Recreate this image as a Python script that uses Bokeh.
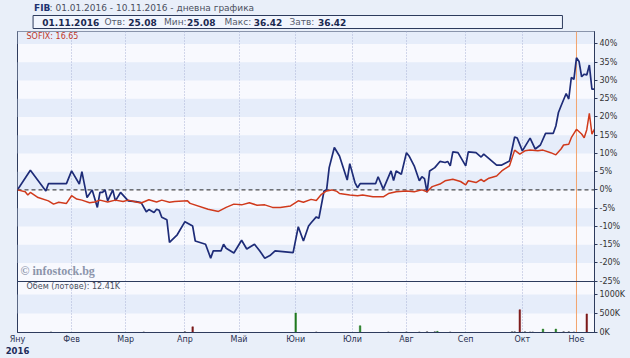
from bokeh.plotting import figure
from bokeh.models import (Range1d, LinearAxis, FixedTicker, Grid, Span, BoxAnnotation, Label,
                          GlobalInlineStyleSheet)
from bokeh.layouts import column
from bokeh.core.properties import value
from bokeh.embed import file_html
from bokeh.resources import INLINE

# ---------------- data ----------------
# x = trading-session index since 01.01.2016 (0 .. 224 = 10.11.2016)
month_idx = [0, 21, 42, 65, 86, 108, 130, 151, 174, 196, 217]
month_labels = ["Яну", "Фев", "Мар", "Апр", "Май", "Юни", "Юли", "Авг", "Сеп", "Окт", "Ное"]
year_label = "2016"
pct_ticks = [-25, -20, -15, -10, -5, 0, 5, 10, 15, 20, 25, 30, 35, 40]
vol_ticks = [0, 500, 1000]
vol_tick_labels = ["0K", "500K", "1000K"]
selected_idx = 217
x_last = 224

fib_idx = [0, 5, 11, 12, 19, 21, 24, 25, 27, 29, 31, 32, 33, 34, 35, 37, 38, 40, 43, 46, 48, 50,
           51, 53, 54, 55, 56, 58, 59, 61, 62, 65, 68, 69, 73, 75, 76, 79, 80, 81, 84, 87, 89, 92,
           94, 96, 98, 100, 107, 109, 111, 113, 114, 116, 117, 119, 120, 121, 123, 125, 128, 129,
           131, 132, 133, 139, 140, 142, 145, 146, 147, 149, 151, 152, 154, 156, 157, 158, 159,
           160, 162, 164, 166, 167, 168, 169, 171, 174, 175, 178, 180, 181, 186, 188, 191, 193,
           194, 196, 199, 201, 203, 205, 208, 209, 210, 211, 213, 214, 215, 216, 217, 218, 219,
           220, 221, 222, 223, 224]
fib_pct = [0.0, 5.4, -0.3, 1.7, 1.7, 5.2, 1.6, 5.0, -2.1, 0.0, -4.8, -0.7, -0.7, 0.0, -3.0, 0.0,
           -3.0, -0.7, -3.0, -3.2, -3.5, -6.0, -5.4, -6.2, -5.3, -5.6, -7.5, -8.2, -14.4, -13.0,
           -12.3, -8.7, -9.9, -14.0, -14.9, -18.7, -16.7, -16.7, -14.9, -16.0, -17.3, -13.8, -16.2,
           -14.9, -16.7, -18.7, -18.0, -16.7, -17.2, -10.1, -14.0, -9.9, -9.0, -7.4, -7.8, -0.3,
           0.0, 6.1, 11.6, 9.3, 2.7, 7.2, 2.0, 0.6, 1.7, 1.7, 3.6, 0.2, 5.2, 2.6, 5.2, 4.3, 10.2,
           9.3, 6.6, 2.5, 3.6, 3.1, -0.7, 5.2, 6.1, 7.8, 7.5, 7.8, 6.6, 10.4, 10.2, 6.6, 10.4, 10.2,
           9.0, 9.8, 6.8, 6.8, 7.9, 14.5, 14.2, 10.7, 14.2, 11.2, 12.3, 15.5, 15.5, 17.5, 21.2,
           23.0, 26.4, 24.9, 30.8, 30.3, 36.2, 35.2, 31.0, 31.7, 31.5, 34.2, 27.6, 27.6]

sofix_idx = [0, 3, 4, 5, 8, 12, 14, 16, 19, 21, 23, 25, 28, 30, 32, 35, 38, 41, 43, 46, 48, 51,
             54, 56, 59, 61, 66, 67, 74, 78, 81, 84, 87, 90, 93, 96, 99, 102, 106, 109, 111, 114,
             116, 118, 120, 122, 124, 125, 129, 132, 134, 138, 142, 144, 147, 151, 154, 157, 159,
             161, 164, 166, 169, 172, 174, 175, 178, 180, 181, 183, 186, 188, 189, 191, 193, 195,
             197, 199, 202, 204, 207, 209, 211, 212, 214, 215, 217, 219, 220, 221, 222, 223, 224]
sofix_pct = [0.0, -0.5, -1.4, -0.7, -2.1, -3.0, -3.9, -3.4, -3.7, -1.6, -2.5, -2.8, -3.5, -3.3,
             -2.8, -3.3, -2.8, -3.2, -2.8, -3.3, -3.6, -2.7, -3.3, -2.8, -3.4, -3.2, -3.0, -3.7,
             -5.3, -5.9, -4.8, -3.9, -4.1, -3.5, -4.2, -4.1, -4.8, -4.8, -4.4, -3.0, -3.4, -2.6,
             -2.9, -1.2, -0.3, 0.0, -0.4, -1.0, -1.4, -1.6, -1.4, -1.9, -1.9, -1.0, -0.5, -0.3,
             -0.5, 0.0, -0.5, 0.9, 1.6, 2.5, 2.9, 2.3, 1.4, 2.5, 2.0, 2.9, 2.3, 3.2, 3.8, 5.2, 5.7,
             6.6, 10.9, 9.8, 10.7, 10.9, 10.7, 10.9, 10.2, 9.6, 11.2, 12.3, 12.5, 14.3, 16.6, 15.3,
             14.3, 16.5, 21.0, 15.3, 16.65]

vol_idx = [13, 49, 65, 68, 108, 116, 133, 144, 151, 156, 159, 162, 163, 168, 192, 193, 195, 197,
           199, 200, 204, 209, 212, 214, 216, 221]
vol_k = [15, 15, 20, 150, 515, 15, 178, 15, 15, 15, 20, 20, 30, 15, 20, 20, 600, 20, 15, 15, 90,
         90, 20, 20, 15, 490]
vol_dir = ["n", "n", "n", "d", "u", "n", "u", "n", "n", "n", "n", "n", "u", "n", "n", "n", "d",
           "n", "n", "n", "u", "u", "n", "n", "n", "d"]

title_code = "FIB"
title_rest = ": 01.01.2016 - 10.11.2016 - дневна графика"
info_date = "01.11.2016"
info_names = ["Отв:", "Мин:", "Макс:", "Затв:"]
info_values = ["25.08", "25.08", "36.42", "36.42"]
sofix_text = "SOFIX: 16.65"
volume_text = "Обем (лотове): 12.41K"
copyright_text = "© infostock.bg"

# ---------------- style / geometry ----------------
W = 630
BG = "#e9eff9"
BAND_BLUE = "#e6edfa"
BAND_WHITE = "#f8f9fe"
FRAME = "#2d3b5d"
FONT = "DejaVu Sans"
BLUE = "#1e2c78"
RED = "#d03a1c"
GRID = "#aab3d6"
ORANGE = "#f3a46c"

HDR_H = 31
PRICE_H = 250      # pixel height of the price panel
VOL_H = 51         # pixel height of the volume panel
BOTTOM_H = 26
price_lo, price_hi = -25.1, 43.4
vol_hi = 1345
frame_h = PRICE_H + VOL_H
# the price range is extended downward so the volume panel sits below it in the same frame
y_lo = price_lo - VOL_H * (price_hi - price_lo) / PRICE_H
vol_end = vol_hi * frame_h / VOL_H

css = GlobalInlineStyleSheet(css="html, body { margin: 0 !important; padding: 0; background: %s; overflow: hidden; }" % BG)

# ---------------- header ----------------
hdr = figure(width=W, height=HDR_H, x_range=Range1d(0, W), y_range=Range1d(HDR_H, 0),
             toolbar_location=None, output_backend="svg", x_axis_location=None,
             y_axis_location=None, min_border_left=0, min_border_right=0, min_border_top=0,
             min_border_bottom=0, background_fill_color=BG, border_fill_color=BG,
             outline_line_color=None)
hdr.grid.visible = False
hdr.text(x=[18], y=[7], text=[title_code], text_font=value(FONT), text_font_style="bold",
         text_font_size="9px", text_color="#1d3270", text_baseline="middle")
hdr.text(x=[35], y=[7], text=[title_rest], text_font=value(FONT), text_font_size="9px",
         text_color="#4b5060", text_baseline="middle")
hdr.quad(left=[17], right=[595], top=[15], bottom=[28], fill_color="#f1f5fd",
         line_color=FRAME, line_width=1)
hdr.text(x=[27], y=[21.5], text=[info_date], text_font=value(FONT), text_font_style="bold",
         text_font_size="9px", text_color="#1a2850", text_baseline="middle")
name_x = [95, 160, 226, 297]
val_x = [121, 185, 258, 328]
hdr.text(x=name_x, y=[21.5] * 4, text=info_names, text_font=value(FONT), text_font_size="9px",
         text_color="#555b6b", text_baseline="middle")
hdr.text(x=val_x, y=[21.5] * 4, text=info_values, text_font=value(FONT), text_font_style="bold",
         text_font_size="9px", text_color="#1a2850", text_baseline="middle")

# ---------------- chart (price + volume in one frame) ----------------
p = figure(width=W, height=frame_h + BOTTOM_H, x_range=Range1d(0, x_last),
           y_range=Range1d(y_lo, price_hi), toolbar_location=None, output_backend="svg",
           x_axis_location=None, y_axis_location=None, min_border_left=17, min_border_right=36,
           min_border_top=0, min_border_bottom=BOTTOM_H, background_fill_color=BAND_WHITE,
           border_fill_color=BG, outline_line_color=FRAME)
p.grid.visible = False
p.extra_y_ranges = {"vol": Range1d(0, vol_end)}

# price bands (alternating every 5%)
for t in pct_ticks + [45]:
    if ((40 - t) // 5) % 2 == 1 and t > price_lo:
        p.add_layout(BoxAnnotation(bottom=max(t - 5, price_lo), top=t, fill_color=BAND_BLUE,
                                   fill_alpha=1, line_color=None, level="underlay"))
# volume band
p.add_layout(BoxAnnotation(bottom=vol_ticks[1], top=vol_ticks[2], y_range_name="vol",
                           fill_color=BAND_BLUE, fill_alpha=1, line_color=None,
                           level="underlay"))

month_ticker = FixedTicker(ticks=month_idx)
p.add_layout(Grid(dimension=0, ticker=month_ticker, grid_line_color=GRID,
                  grid_line_dash="1 2", grid_line_width=1))
p.add_layout(Span(location=selected_idx, dimension="height", line_color=ORANGE,
                  line_width=1, level="underlay"))
p.add_layout(Span(location=0, dimension="width", line_color="#222222", line_dash="4 3",
                  line_width=1, level="underlay"))
# separator between price and volume panels
p.add_layout(Span(location=price_lo, dimension="width", line_color=FRAME, line_width=1.2))

cmap = {"u": "#217a21", "d": "#7d1a1a", "n": "#3a3a3a"}
vcol = [cmap[d] for d in vol_dir]
p.vbar(x=vol_idx, top=vol_k, width=0.6, y_range_name="vol", fill_color=vcol, line_color=vcol,
       line_width=0.5)

p.line(fib_idx, fib_pct, line_color=BLUE, line_width=1.7)
p.line(sofix_idx, sofix_pct, line_color=RED, line_width=1.5)

# one right axis carrying both the % ticks and the volume ticks
vol_pos = [y_lo + v * (price_hi - y_lo) / vol_end for v in vol_ticks]
overrides = {t: "%d%%" % t for t in pct_ticks}
overrides.update(dict(zip(vol_pos, vol_tick_labels)))
ax_r = LinearAxis(ticker=FixedTicker(ticks=pct_ticks + vol_pos),
                  major_label_overrides=overrides,
                  axis_line_color=FRAME, major_tick_line_color=FRAME, major_tick_out=3,
                  major_tick_in=0, minor_tick_line_color=None, major_label_standoff=2,
                  major_label_text_font=FONT, major_label_text_font_size="8px",
                  major_label_text_color="#333333")
p.add_layout(ax_r, "right")

# month axis, then a second axis underneath carrying only the year under January
month_over = {m: lbl for m, lbl in zip(month_idx, month_labels)}
ax_b = LinearAxis(ticker=month_ticker, major_label_overrides=month_over,
                  axis_line_color=FRAME, major_tick_line_color=None, minor_tick_line_color=None,
                  major_tick_out=0, major_tick_in=0,
                  major_label_standoff=2, major_label_text_font=FONT,
                  major_label_text_font_size="8px", major_label_text_color="#2a3050")
p.add_layout(ax_b, "below")
ax_y = LinearAxis(ticker=FixedTicker(ticks=[month_idx[0]]),
                  major_label_overrides={month_idx[0]: year_label},
                  axis_line_color=None, major_tick_line_color=None, minor_tick_line_color=None,
                  major_tick_out=0, major_tick_in=0,
                  major_label_standoff=0, major_label_text_font=FONT,
                  major_label_text_font_style="bold",
                  major_label_text_font_size="8.5px", major_label_text_color="#1d2c5a")
p.add_layout(ax_y, "below")

p.add_layout(Label(x=0, y=price_hi, x_offset=9, y_offset=-5, text=sofix_text,
                   text_font=FONT, text_font_size="8px", text_color="#c0392b",
                   text_baseline="middle"))
p.add_layout(Label(x=0, y=price_lo, x_offset=3, y_offset=11, text=copyright_text,
                   text_font="Liberation Serif", text_font_style="bold",
                   text_font_size="12px", text_color="#8c95ab", text_baseline="middle"))
p.add_layout(Label(x=0, y=vol_hi, y_range_name="vol", x_offset=9, y_offset=-5,
                   text=volume_text, text_font=FONT, text_font_size="8px",
                   text_color="#4b5060", text_baseline="middle"))

layout = column(hdr, p, spacing=0, stylesheets=[css])
open("out.html", "w").write(file_html(layout, INLINE))
